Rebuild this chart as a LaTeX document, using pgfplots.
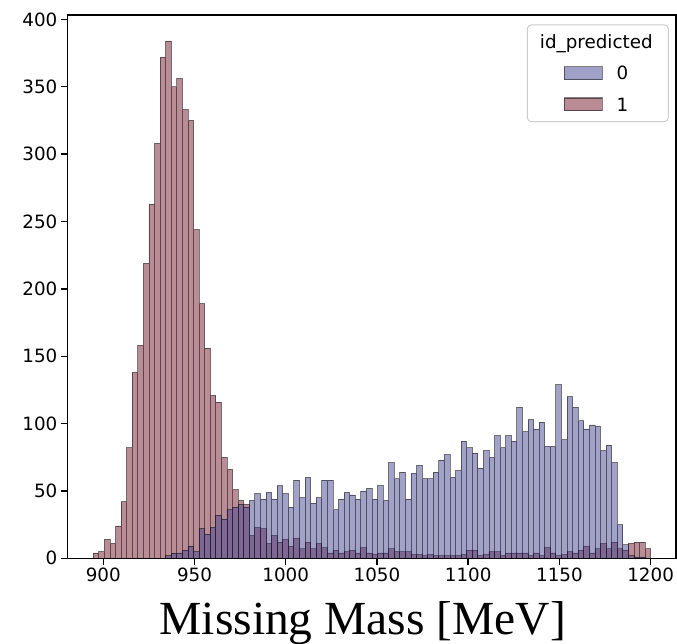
\documentclass[border=0pt]{standalone}
\usepackage{pgfplots}
\pgfplotsset{compat=1.18}
\usepackage{pgfplotstable}
\usepackage{fontspec}
\setmainfont{DejaVu Sans}
\newfontfamily\labelfont{Liberation Serif}
\definecolor{hblue}{RGB}{69,69,145}
\definecolor{hred}{RGB}{115,25,45}
\definecolor{legframe}{RGB}{204,204,204}

\pgfplotstableread{
k red blue
0 4 0
1 5 0
2 14 0
3 11 0
4 24 0
5 42 0
6 82 0
7 138 0
8 158 0
9 219 0
10 263 0
11 308 0
12 372 0
13 384 2
14 350 4
15 356 4
16 333 6
17 325 9
18 244 5
19 189 22
20 156 18
21 121 23
22 116 32
23 75 29
24 66 36
25 51 38
26 43 40
27 40 38
28 17 43
29 23 48
30 22 44
31 11 49
32 17 44
33 12 54
34 14 48
35 9 38
36 15 58
37 7 45
38 12 60
39 7 41
40 11 45
41 8 58
42 4 58
43 6 36
44 4 44
45 5 49
46 6 47
47 4 44
48 8 50
49 4 52
50 3 44
51 4 54
52 4 43
53 7 71
54 5 59
55 5 64
56 5 44
57 3 63
58 3 69
59 2 59
60 3 59
61 2 64
62 2 73
63 2 77
64 2 60
65 2 65
66 3 87
67 6 82
68 6 78
69 2 67
70 3 80
71 5 75
72 5 91
73 2 82
74 4 91
75 4 87
76 4 112
77 4 94
78 2 103
79 4 96
80 2 101
81 8 83
82 4 83
83 2 129
84 3 88
85 5 120
86 4 112
87 6 102
88 9 96
89 4 99
90 7 98
91 11 80
92 7 84
93 12 71
94 7 25
95 6 10
96 11 2
97 12 1
98 12 1
99 7 0
100 0 0
}\hist

\begin{document}
\begin{tikzpicture}
\begin{axis}[
  at={(0pt,0pt)}, anchor=south west,
  scale only axis, width=608.7pt, height=543.3pt,
  xmin=880.3, xmax=1213.9, ymin=0, ymax=403.3,
  axis on top,
  axis line style={line width=1.4pt, black},
  xtick={900,950,...,1200}, ytick={0,50,...,400},
  xtick pos=left, ytick pos=left,
  tick align=outside, major tick length=6.4pt,
  tick style={line width=1.4pt, black},
  ticklabel style={font=\fontsize{18.3}{22}\selectfont},
  /pgf/number format/assume math mode=true,
  /pgf/number format/1000 sep={},
  xlabel={Missing Mass [MeV]},
  xlabel style={font=\labelfont\fontsize{47.5}{52}\selectfont, at={(axis description cs:0.4855,0)}, anchor=base, yshift=-75.7pt},
  reverse legend,
  legend style={at={(axis description cs:0.8149,0.9060)}, anchor=north west, draw=none, fill=none, inner sep=0pt,
    nodes={inner sep=0pt, text height=13.3pt, text depth=0pt}, row sep=17.3pt,
    font=\fontsize{18.3}{22}\selectfont},
  legend cell align=left,
]
\addplot[ybar interval, fill=hred, draw=black, opacity=0.5, line width=0.8pt,
  legend image code/.code={\draw[fill=hred, draw=black, opacity=0.5, line width=1.2pt] (0pt,-6.35pt) rectangle (38pt,6.35pt); \path[draw=none, fill=none] (0pt,-1pt) rectangle (52.5pt,1pt);}]
  table[x expr=894.5+3.055*\thisrow{k}, y=red] {\hist};
\addlegendentry{1}
\addplot[ybar interval, fill=hblue, draw=black, opacity=0.5, line width=0.8pt,
  legend image code/.code={\draw[fill=hblue, draw=black, opacity=0.5, line width=1.2pt] (0pt,-6.35pt) rectangle (38pt,6.35pt); \path[draw=none, fill=none] (0pt,-1pt) rectangle (52.5pt,1pt);}]
  table[x expr=894.5+3.055*\thisrow{k}, y=blue] {\hist};
\addlegendentry{0}
\draw[legframe, line width=1pt, rounded corners=4pt, fill=white, fill opacity=0.8]
  (axis description cs:0.7557,0.8036) rectangle (axis description cs:0.9873,0.9816);
\node[anchor=base, font=\fontsize{18.3}{22}\selectfont, inner sep=0pt] at (axis description cs:0.8691,0.9387) {id\_predicted};
\end{axis}
\pgfresetboundingbox
\useasboundingbox (-67.3pt,-84.7pt) rectangle (609.7pt,558.3pt);
\end{tikzpicture}
\end{document}
